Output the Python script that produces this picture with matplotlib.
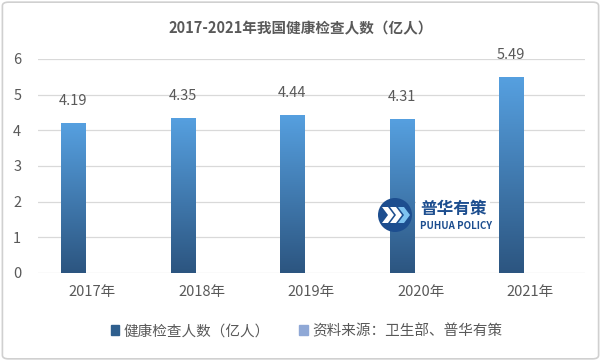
import matplotlib.pyplot as plt
import numpy as np
from matplotlib.patches import Circle, Polygon, FancyBboxPatch, Rectangle

plt.rcParams['font.family'] = ['Noto Sans CJK SC', 'DejaVu Sans']

years = ["2017年", "2018年", "2019年", "2020年", "2021年"]
values = [4.19, 4.35, 4.44, 4.31, 5.49]
series_name = "健康检查人数（亿人）"
source_name = "资料来源：卫生部、普华有策"
title = "2017-2021年我国健康检查人数（亿人）"

txt = "#595959"
top_col = np.array([0x56, 0xa0, 0xe0]) / 255
bot_col = np.array([0x2c, 0x55, 0x80]) / 255

fig = plt.figure(figsize=(6.01, 3.61), dpi=100)
fig.patches.append(FancyBboxPatch((0.004, 0.006), 0.992, 0.988,
                                  boxstyle="round,pad=0,rounding_size=0.01",
                                  transform=fig.transFigure, fill=False,
                                  edgecolor="#d0d0d0", lw=1.2))
ax = fig.add_axes([0.063, 0.244, 0.91, 0.593])

x = np.arange(len(years))
width = 0.22
offset = -0.175
bars = ax.bar(x + offset, values, width, color="none", zorder=3)

# vertical gradient inside each bar
grad = np.linspace(0, 1, 256)[:, None, None]
img = bot_col * (1 - grad) + top_col * grad
for b in bars:
    x0, y0 = b.get_x(), b.get_y()
    w, h = b.get_width(), b.get_height()
    im = ax.imshow(img, extent=[x0, x0 + w, y0, y0 + h], origin="lower",
                   aspect="auto", zorder=3, interpolation="bilinear")
    im.set_clip_path(b)

for xi, v in zip(x, values):
    ax.text(xi + offset, v + 0.42, f"{v:.2f}", ha="center", va="bottom",
            fontsize=10.5, color=txt)

ax.set_xlim(-0.5, len(years) - 0.5)
ax.set_ylim(0, 6)
ax.set_yticks(range(7))
ax.set_xticks(x, years)
ax.tick_params(length=0, labelsize=10.5, labelcolor=txt)
ax.tick_params(axis="x", pad=9)
ax.tick_params(axis="y", pad=12)
ax.grid(axis="y", color="#d9d9d9", lw=0.9, zorder=0)
for s in ax.spines.values():
    s.set_visible(False)

fig.text(0.5, 0.922, title, ha="center", va="center", fontsize=10.5,
         fontweight="bold", color=txt)

# legend
h1 = Rectangle((0, 0), 1, 1, color="#2f5f8e")
h2 = Rectangle((0, 0), 1, 1, color="#8fa8d6")
fig.legend([h1, h2], [series_name, source_name], loc="center",
           bbox_to_anchor=(0.51, 0.083), ncol=2, frameon=False,
           fontsize=10.5, labelcolor=txt, handlelength=0.6, handleheight=0.6,
           handletextpad=0.3, columnspacing=2.0)

# watermark logo
cx, cy = 395, 361 - 215
fig.patches.append(Rectangle((416, cy - 17), 74, 34, transform=None,
                             facecolor="white", edgecolor="none", zorder=4))
fig.patches.append(Circle((cx, cy), 17, transform=None,
                          facecolor="#1d4e8f", edgecolor="none", zorder=5))
for dx in (-8, 0, 8):
    pts = [(cx + dx - 5, cy + 8), (cx + dx + 1, cy + 8),
           (cx + dx + 7, cy), (cx + dx + 1, cy - 8),
           (cx + dx - 5, cy - 8), (cx + dx + 1, cy)]
    col = "#ffffff" if dx < 8 else "#7ec3f0"
    fig.patches.append(Polygon(pts, closed=True, transform=None,
                               facecolor=col, edgecolor="none", zorder=6))
fig.text(420 / 601, 1 - 209 / 361, "普华有策", fontsize=12, fontweight="bold",
         color="#1d4e8f", ha="left", va="center", zorder=6)
fig.text(420 / 601, 1 - 226 / 361, "PUHUA POLICY", fontsize=7,
         fontweight="bold", color="#1d4e8f", ha="left", va="center", zorder=6)

fig.savefig("out.png", dpi=100)
